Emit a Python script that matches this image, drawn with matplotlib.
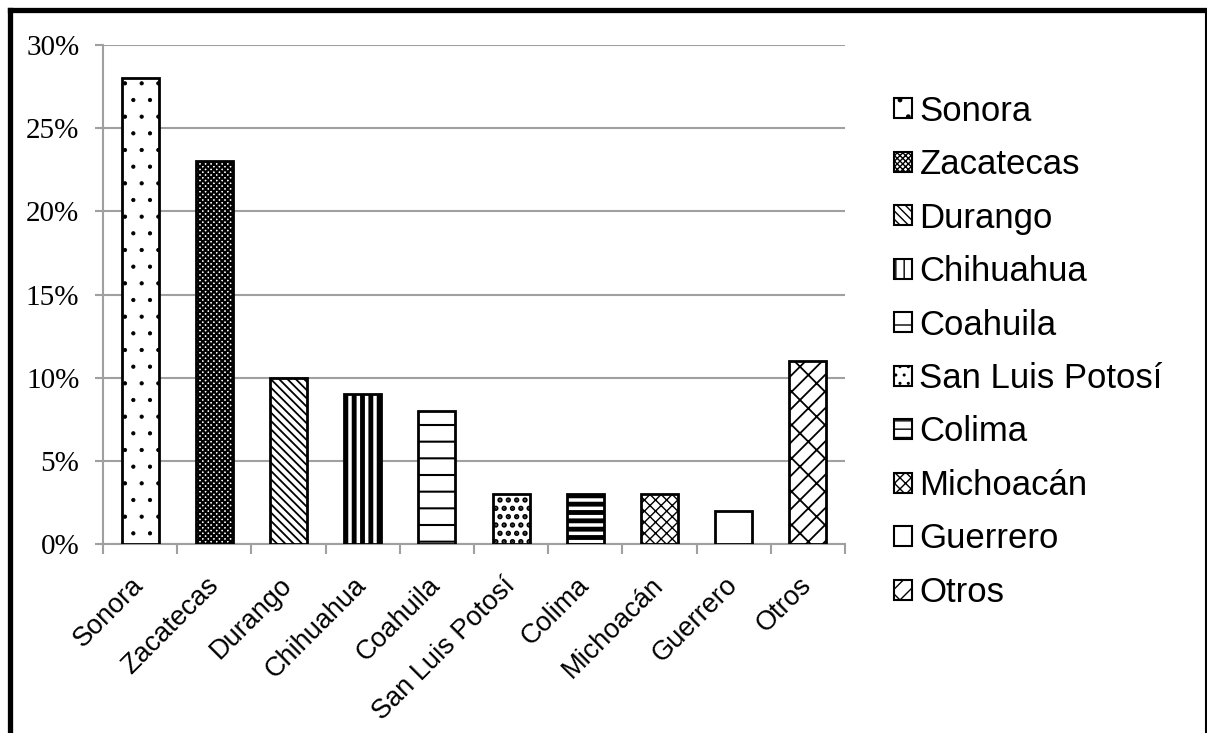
import matplotlib
matplotlib.use("Agg")
import matplotlib.pyplot as plt
from matplotlib.lines import Line2D
from matplotlib.ticker import FuncFormatter, MultipleLocator
import matplotlib.patheffects as pe
import numpy as np

categories = ["Sonora", "Zacatecas", "Durango", "Chihuahua", "Coahuila",
              "San Luis Potosí", "Colima", "Michoacán", "Guerrero", "Otros"]
values = [0.28, 0.23, 0.10, 0.09, 0.08, 0.03, 0.03, 0.03, 0.02, 0.11]
hatches = [".", "xxxxxx", "\\\\\\\\", "||", "-", "..", "--", "xxx", "", "/x"]
hatch_widths = [0.6, 1.6, 1.3, 3.5, 1.5, 2.6, 3.5, 1.0, 1.0, 1.3]

fig = plt.figure(figsize=(12.07, 7.33), dpi=100)
fig.patch.set_facecolor("white")
ax = fig.add_axes([0.0853, 0.2578, 0.7001 - 0.0853, 0.9386 - 0.2578])

x = np.arange(len(categories))
bars = []
for i, (c, v, h, hw) in enumerate(zip(categories, values, hatches, hatch_widths)):
    b = ax.bar(x[i], v, width=0.5, facecolor="white", edgecolor="black",
               linewidth=2.0, hatch=h, label=c, zorder=3)[0]
    if hasattr(b, "set_hatch_linewidth"):
        b.set_hatch_linewidth(hw)
    b.set_path_effects([pe.SimplePatchShadow(offset=(0, 0), shadow_rgbFace="#bbbbbb", alpha=0.6),
                        pe.Normal()])
    bars.append(b)

ax.set_xlim(-0.5, len(categories) - 0.5)
ax.set_ylim(0, 0.30)
ax.yaxis.set_major_locator(MultipleLocator(0.05))
ax.yaxis.set_major_formatter(FuncFormatter(lambda v, p: f"{v*100:.0f}%"))
ax.grid(axis="y", color="#a0a0a0", linewidth=1.5, zorder=0)
ax.set_axisbelow(True)

for s in ["top", "right"]:
    ax.spines[s].set_visible(False)
for s in ["left", "bottom"]:
    ax.spines[s].set_color("#a0a0a0")
    ax.spines[s].set_linewidth(1.5)

ax.tick_params(axis="y", which="major", length=6, width=1.5, color="#a0a0a0",
               labelsize=21, pad=11)
for lab in ax.get_yticklabels():
    lab.set_fontfamily("Liberation Serif")

ax.set_xticks(x)
ax.set_xticks(np.arange(len(categories) + 1) - 0.5, minor=True)
ax.tick_params(axis="x", which="major", length=0, pad=27)
ax.tick_params(axis="x", which="minor", length=7, width=1.5, color="#a0a0a0")
ax.set_xticklabels(categories, rotation=45, ha="right", va="center",
                   rotation_mode="anchor", fontsize=19.5, fontfamily="Liberation Sans")

leg = fig.legend(handles=bars, labels=categories, loc="upper left",
                 bbox_to_anchor=(0.741, 0.871), frameon=False,
                 prop={"family": "Liberation Sans", "size": 25},
                 handlelength=0.52, handleheight=0.52, handletextpad=0.2,
                 labelspacing=0.59, borderaxespad=0, borderpad=0)
for h in leg.legend_handles:
    h.set_linewidth(1.5)
    h.set_path_effects([])

# outer frame
W, H = 1207, 733
def fx(px): return px / W
def fy(py): return 1 - py / H
fig.add_artist(Line2D([fx(10), fx(1206)], [fy(9.5), fy(9.5)], color="black", linewidth=3.8))
fig.add_artist(Line2D([fx(10), fx(10)], [fy(9.5), fy(740)], color="black", linewidth=3.8))
fig.add_artist(Line2D([fx(1205.5), fx(1205.5)], [fy(9.5), fy(740)], color="black", linewidth=1.5))

fig.savefig("out.png", dpi=100)
